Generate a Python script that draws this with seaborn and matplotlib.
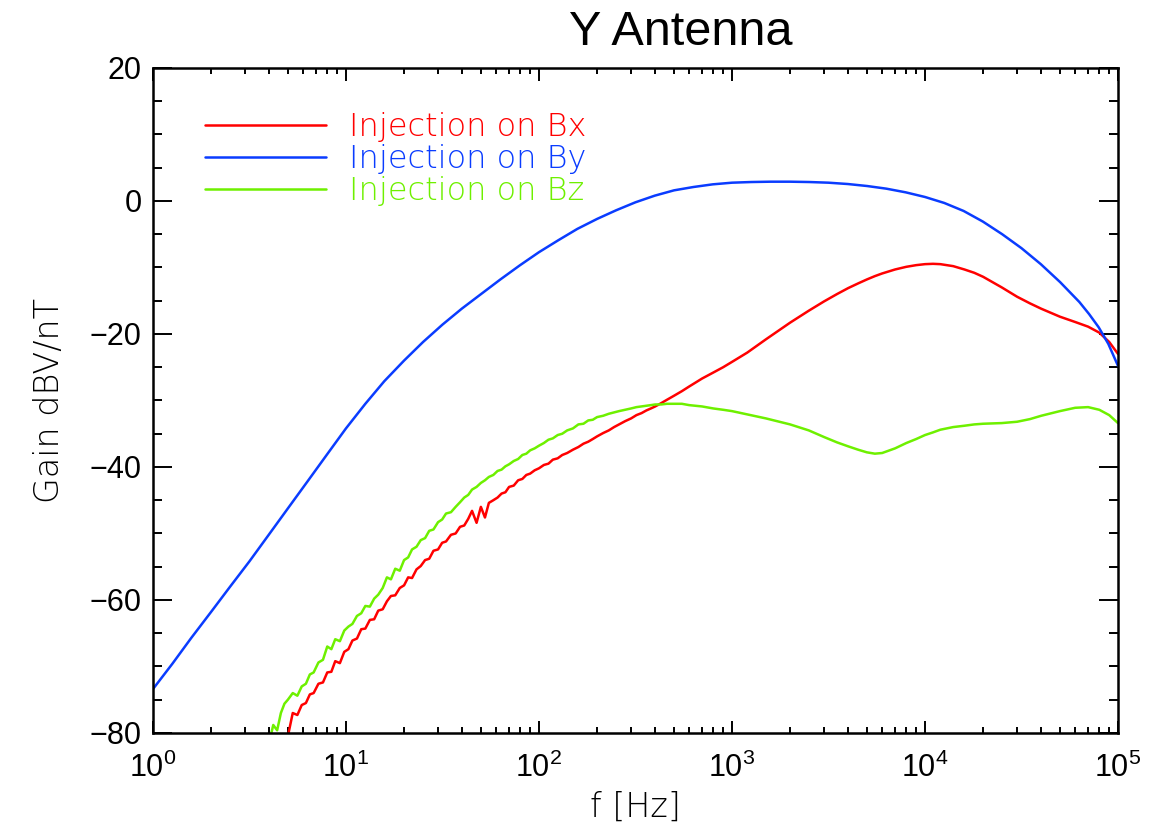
import numpy as np
import pandas as pd
import matplotlib
matplotlib.use("Agg")
import matplotlib.pyplot as plt
import matplotlib.ticker as mticker
import seaborn as sns

# ---------------- data ----------------
title = "Y Antenna"
xlabel = "f [Hz]"
ylabel = "Gain dBV/nT"
series_names = ["Injection on Bx", "Injection on By", "Injection on Bz"]
series_colors = ["#ff0000", "#0a3cff", "#6ef000"]

# shared frequency grid (Hz) for the noisy Bx / Bz measurements
f_noisy = [4.0, 4.2, 4.4, 4.6, 4.8, 5.0, 5.3, 5.6, 5.9, 6.2, 6.5, 6.8, 7.2, 7.6, 8.0, 8.4,
           8.8, 9.3, 9.8, 10.3, 10.8, 11.4, 12, 12.6, 13.3, 14, 14.7, 15.5, 16.3, 17.1, 18,
           19, 20, 21, 22, 23.2, 24.4, 25.7, 27, 28.4, 30, 31.5, 33, 35, 37, 39, 41, 43, 45,
           47.5, 50, 52.5, 55, 58, 61, 64, 67, 70, 74, 78, 82, 86, 90, 95, 100, 106, 112, 118,
           125, 132, 140, 150, 160, 170, 180, 190, 200, 215, 230, 245, 260, 280, 300, 320,
           340, 360, 380, 400, 430, 460, 500]
f_smooth = [550, 600, 700, 800, 900, 1000, 1200, 1500, 2000, 2500, 3000, 3500, 4000, 4500,
            5000, 5500, 6000, 7000, 8000, 9000, 10000, 11000, 12000, 14000, 16000, 18000,
            20000, 25000, 30000, 35000, 40000, 50000, 60000, 70000, 80000, 90000, 100000]

# Bz (green) gain, dB
gain_bz_noisy = [-81.5, -78.8, -79.6, -77.0, -75.6, -75.0, -74.0, -74.4, -73.0, -72.6, -71.2,
                 -70.9, -69.4, -69.0, -67.0, -67.4, -65.9, -66.2, -64.6, -64.0, -63.6, -62.4,
                 -62.0, -60.9, -61.0, -59.8, -59.2, -58.2, -56.6, -56.9, -55.3, -55.6, -54.0,
                 -53.6, -52.4, -52.0, -51.0, -50.7, -49.6, -49.4, -48.3, -47.9, -47.0, -46.8,
                 -46.0, -45.3, -44.6, -44.2, -43.4, -43.0, -42.4, -42.0, -41.5, -41.2, -40.6,
                 -40.4, -39.9, -39.6, -39.1, -38.8, -38.2, -38.0, -37.5, -37.2, -36.8, -36.4,
                 -35.9, -35.7, -35.2, -35.0, -34.5, -34.2, -33.6, -33.5, -33.0, -32.9, -32.5,
                 -32.3, -32.0, -31.8, -31.6, -31.4, -31.2, -31.0, -30.9, -30.8, -30.7, -30.6,
                 -30.6, -30.5, -30.5]
gain_bz_smooth = [-30.5, -30.7, -30.9, -31.2, -31.4, -31.6, -32.1, -32.7, -33.6, -34.5, -35.5,
                  -36.3, -36.9, -37.4, -37.8, -38.0, -37.9, -37.2, -36.4, -35.8, -35.2, -34.8,
                  -34.4, -34.0, -33.8, -33.6, -33.5, -33.4, -33.2, -32.8, -32.3, -31.6, -31.1,
                  -31.0, -31.4, -32.2, -33.4]

# Bx (red) gain, dB (starts at 4.8 Hz)
gain_bx_noisy = [-84.0, -80.5, -77.0, -77.3, -75.8, -75.5, -74.2, -74.0, -72.6, -72.4, -70.9,
                 -70.8, -69.2, -69.5, -67.8, -67.4, -66.1, -65.8, -64.4, -64.3, -63.0, -62.9,
                 -61.6, -61.4, -60.2, -59.4, -59.3, -58.2, -57.8, -56.6, -56.7, -55.4, -54.9,
                 -54.0, -53.8, -52.6, -52.4, -51.4, -51.2, -50.2, -50.0, -49.0, -48.8, -47.8,
                 -46.6, -48.4, -46.0, -47.6, -45.4, -45.0, -44.6, -44.0, -43.8, -43.0, -42.8,
                 -42.0, -41.8, -41.2, -41.0, -40.5, -40.2, -39.7, -39.5, -38.9, -38.7, -38.2,
                 -37.9, -37.4, -37.0, -36.5, -36.2, -35.8, -35.4, -34.9, -34.5, -34.0, -33.6,
                 -33.1, -32.7, -32.2, -31.9, -31.5, -31.2, -30.9, -30.4, -29.9, -29.3]
gain_bx_smooth = [-28.6, -27.9, -26.7, -25.8, -25.0, -24.2, -22.8, -20.8, -18.3, -16.5, -15.1,
                  -14.0, -13.1, -12.4, -11.8, -11.3, -10.9, -10.3, -9.9, -9.65, -9.5, -9.45,
                  -9.5, -9.8, -10.3, -10.8, -11.4, -13.0, -14.4, -15.4, -16.2, -17.4, -18.2,
                  -18.9, -19.8, -21.2, -23.0]

# By (blue) gain, dB
f_by = [1, 1.26, 1.58, 2.0, 2.51, 3.16, 3.98, 5.01, 6.31, 7.94, 10, 12.6, 15.8, 20, 25.1,
        31.6, 39.8, 50.1, 63.1, 79.4, 100, 126, 158, 200, 251, 316, 398, 501, 631, 794, 1000,
        1259, 1585, 1995, 2512, 3162, 3981, 5012, 6310, 7943, 10000, 12589, 15849, 19953,
        25119, 31623, 39811, 50119, 63096, 70795, 79433, 89125, 100000]
gain_by = [-73.4, -69.6, -65.7, -61.8, -58.0, -54.2, -50.2, -46.2, -42.2, -38.2, -34.2, -30.5,
           -27.1, -24.0, -21.2, -18.6, -16.2, -14.0, -11.8, -9.7, -7.7, -5.9, -4.2, -2.7, -1.4,
           -0.2, 0.8, 1.6, 2.1, 2.5, 2.75, 2.85, 2.9, 2.9, 2.85, 2.75, 2.55, 2.25, 1.85, 1.3,
           0.6, -0.3, -1.5, -3.1, -5.0, -7.1, -9.5, -12.2, -15.2, -17.0, -19.0, -21.5, -24.8]

x_ticks = [1, 10, 100, 1000, 10000, 100000]
y_ticks = [-80, -60, -40, -20, 0, 20]

# ---------------- assemble ----------------
f_bx = f_noisy[4:] + f_smooth
g_bx = gain_bx_noisy + gain_bx_smooth
f_bz = f_noisy + f_smooth
g_bz = gain_bz_noisy + gain_bz_smooth

df = pd.concat([
    pd.DataFrame({"f": f_bx, "gain": g_bx, "series": series_names[0]}),
    pd.DataFrame({"f": f_by, "gain": gain_by, "series": series_names[1]}),
    pd.DataFrame({"f": f_bz, "gain": g_bz, "series": series_names[2]}),
], ignore_index=True)

sns.set_style("ticks")
plt.rcParams["font.family"] = ["Liberation Sans", "DejaVu Sans"]
plt.rcParams["mathtext.fontset"] = "custom"
plt.rcParams["mathtext.rm"] = "Liberation Sans"
plt.rcParams["mathtext.it"] = "Liberation Sans"
plt.rcParams["text.color"] = "black"
plt.rcParams["axes.labelcolor"] = "black"

fig = plt.figure(figsize=(11.57, 8.23), dpi=100)
ax = fig.add_axes([0.1322, 0.1094, 0.8341, 0.808])

palette = dict(zip(series_names, series_colors))
sns.lineplot(data=df, x="f", y="gain", hue="series", palette=palette,
             hue_order=series_names, estimator=None, sort=True, linewidth=1.8, ax=ax)

ax.set_xscale("log")
ax.set_xlim(1, 1e5)
ax.set_ylim(-80, 20)
ax.xaxis.set_major_locator(mticker.FixedLocator(x_ticks))
ax.xaxis.set_major_formatter(mticker.LogFormatterMathtext())
ax.xaxis.set_minor_locator(mticker.LogLocator(base=10, subs=np.arange(2, 10), numticks=20))
ax.xaxis.set_minor_formatter(mticker.NullFormatter())
ax.yaxis.set_major_locator(mticker.FixedLocator(y_ticks))
ax.yaxis.set_minor_locator(mticker.MultipleLocator(5))
ax.yaxis.set_major_formatter(mticker.FuncFormatter(lambda v, p: f"{int(v)}".replace("-", "\u2212")))

for s in ax.spines.values():
    s.set_linewidth(1.8)
    s.set_color("black")
    s.set_visible(True)

ax.tick_params(axis="both", which="both", direction="in", top=True, right=True,
               width=1.4, colors="black", labelcolor="black", labelsize=22)
ax.tick_params(axis="y", which="major", length=13.5, pad=8)
ax.tick_params(axis="y", which="minor", length=6.5)
ax.tick_params(axis="x", which="major", length=9, pad=14)
ax.tick_params(axis="x", which="minor", length=4.5)

thin = dict(family=["DejaVu Sans"], fontweight="light", color="black")
ax.set_xlabel(xlabel, fontsize=24, labelpad=5, **thin)
ax.set_ylabel(ylabel, fontsize=24, labelpad=17, **thin)
fig.text(0.588, 0.945, title, ha="center", va="baseline", fontsize=35,
         family=["Liberation Sans"], color="black")

leg = ax.legend(loc="upper left", bbox_to_anchor=(0.054, 0.934), frameon=False,
                handlelength=3.8, handletextpad=0.72, labelspacing=0.06,
                borderaxespad=0, borderpad=0, labelcolor="linecolor",
                prop={"family": "DejaVu Sans", "weight": "light", "size": 23})
for line in leg.get_lines():
    line.set_linewidth(1.8)

fig.savefig("out.png", dpi=100, facecolor="white")
